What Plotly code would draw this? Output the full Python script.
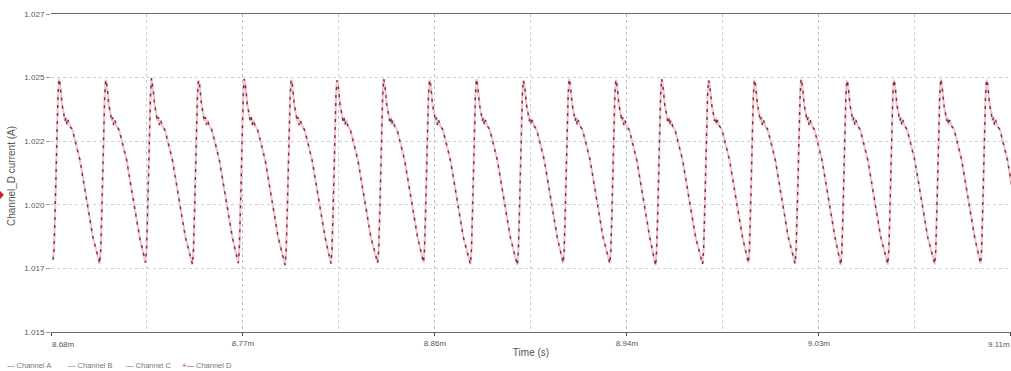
import plotly.graph_objects as go

# ---- data ----
# time of each current minimum (ms)
trough_times_ms = [8.6854, 8.7062, 8.7266, 8.7475, 8.7679, 8.7888, 8.8092, 8.8300,
                   8.8504, 8.8713, 8.8922, 8.9126, 8.9334, 8.9538, 8.9747, 8.9951,
                   9.0159, 9.0363, 9.0572, 9.0781, 9.0985]
# current at each minimum (A)
trough_current = [1.01772, 1.01758, 1.01762, 1.01755, 1.01760, 1.01752, 1.01758, 1.01760,
                  1.01762, 1.01756, 1.01752, 1.01760, 1.01758, 1.01750, 1.01756, 1.01760,
                  1.01758, 1.01752, 1.01755, 1.01756, 1.01758]
# current at each maximum (A)
peak_current = [1.02455, 1.02452, 1.02458, 1.02450, 1.02455, 1.02452, 1.02450, 1.02455,
                1.02452, 1.02455, 1.02450, 1.02455, 1.02452, 1.02455, 1.02450, 1.02452,
                1.02455, 1.02450, 1.02452, 1.02455, 1.02452]
# waveform samples within one period, read from one cycle: time after minimum (us) and current (A)
cycle_offset_us = [0.0, 0.44, 0.89, 1.33, 1.77, 2.22, 2.66, 3.11, 3.55, 3.99, 4.88,
                   5.32, 5.77, 6.21, 6.66, 7.54, 8.43, 8.87, 11.98, 15.09, 17.75]
cycle_current = [1.01760, 1.01809, 1.01942, 1.02111, 1.02281, 1.02394, 1.02455, 1.02436,
                 1.02402, 1.02360, 1.02319, 1.02296, 1.02311, 1.02281, 1.02300, 1.02277,
                 1.02266, 1.02255, 1.02149, 1.01987, 1.01858]
PEAK_INDEX = 6

x_tick_vals = [8.6845, 8.7700, 8.8555, 8.9410, 9.0265, 9.1120]
x_tick_text = ["8.68m", "8.77m", "8.86m", "8.94m", "9.03m", "9.11m"]
y_tick_vals = [1.0150, 1.0174, 1.0198, 1.0222, 1.0246, 1.0270]
y_tick_text = ["1.015", "1.017", "1.020", "1.022", "1.025", "1.027"]
legend_names = ["Channel A", "Channel B", "Channel C", "Channel D"]

# ---- assemble series ----
t_ms, cur = [], []
for i, t0 in enumerate(trough_times_ms):
    for j, off in enumerate(cycle_offset_us):
        t_ms.append(t0 + off / 1000.0)
        if j == 0:
            cur.append(trough_current[i])
        elif j == PEAK_INDEX:
            cur.append(peak_current[i])
        else:
            cur.append(cycle_current[j])

fig = go.Figure()
fig.add_trace(go.Scatter(x=t_ms, y=cur, mode="lines",
                         line=dict(color="#f3c8ce", width=2.2),
                         showlegend=False, hoverinfo="skip"))
fig.add_trace(go.Scatter(x=t_ms, y=cur, mode="lines",
                         line=dict(color="#74323c", width=1.4, dash="3px,5px"),
                         name="Channel D", showlegend=False))

W, H = 1011, 371
L, R, T, B = 51, 0, 14, 39
pw, ph = W - L - R, H - T - B

def px(xp):
    return (xp - L) / pw

def py(yp):
    return (H - B - yp) / ph

# middle tick labels drawn by the axis; the two end labels are nudged inward like the original
axis_ticktext = [""] + x_tick_text[1:-1] + [""]
lbl_font = dict(size=8, color="#555555")
annotations = [
    dict(text=x_tick_text[0], showarrow=False, xref="paper", yref="paper",
         x=px(63), y=py(344), xanchor="center", yanchor="middle", font=lbl_font),
    dict(text=x_tick_text[-1], showarrow=False, xref="paper", yref="paper",
         x=px(999), y=py(344), xanchor="center", yanchor="middle", font=lbl_font),
    dict(text="Channel_D current (A)", textangle=-90, showarrow=False,
         xref="paper", yref="paper", x=px(11), y=py(176),
         xanchor="center", yanchor="middle",
         font=dict(size=10, color="#555555")),
]
legend_x = [5, 66, 124, 180]
legend_marks = ["\u2014", "\u2014", "\u2014", "<span style='color:#c0303a'>+\u2014</span>"]
for lx, mk, nm in zip(legend_x, legend_marks, legend_names):
    annotations.append(dict(text=mk + " " + nm, showarrow=False, xref="paper", yref="paper",
                            x=px(lx), y=py(365), xanchor="left", yanchor="middle",
                            font=dict(size=7.5, color="#777777")))

fig.update_layout(
    width=W, height=H,
    margin=dict(l=L, r=R, t=T, b=B, autoexpand=False),
    paper_bgcolor="white", plot_bgcolor="white",
    font=dict(family="Liberation Sans, Arial, sans-serif", color="#555555", size=9),
    showlegend=False,
    xaxis=dict(
        range=[8.6845, 9.11205], automargin=False,
        tickmode="array", tickvals=x_tick_vals, ticktext=axis_ticktext,
        tickfont=lbl_font,
        ticks="outside", ticklen=3, tickcolor="#444444",
        showline=True, linecolor="#6a6a6a", linewidth=1, mirror=True,
        showgrid=True, gridcolor="#bdbdbd", griddash="dot", gridwidth=1,
        minor=dict(tickmode="array",
                   tickvals=[(a + b) / 2 for a, b in zip(x_tick_vals[:-1], x_tick_vals[1:])],
                   showgrid=True, gridcolor="#cdcdcd", griddash="dot", gridwidth=1,
                   ticks=""),
        zeroline=False,
        title=dict(text="Time (s)", font=dict(size=10, color="#555555"), standoff=2),
    ),
    yaxis=dict(
        range=[1.015, 1.027], automargin=False,
        tickmode="array", tickvals=y_tick_vals, ticktext=y_tick_text,
        tickfont=lbl_font,
        ticks="outside", ticklen=4, tickcolor="#9a9a9a",
        showline=False,
        showgrid=True, gridcolor="#cfcfcf", griddash="3px,3px", gridwidth=1,
        zeroline=False,
    ),
    annotations=annotations,
    shapes=[
        dict(type="path", xref="paper", yref="paper",
             path=f"M {px(0)},{py(191)} L {px(4)},{py(195)} L {px(0)},{py(199)} Z",
             fillcolor="#d0202a", line=dict(width=0)),
    ],
)

fig.write_html("out.html",
               config={"displayModeBar": False},
               post_script="document.body.style.margin='0';"
                           "document.body.style.overflow='hidden';")
